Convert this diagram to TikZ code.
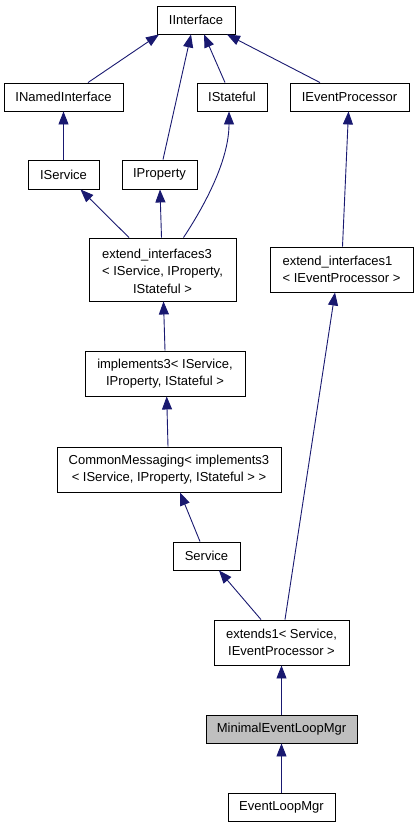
\documentclass[tikz,border=0pt]{standalone}
\usepackage{fontspec}
\setmainfont{Liberation Sans}
\usetikzlibrary{arrows.meta}
\definecolor{edgeblue}{HTML}{191970}
\definecolor{selgray}{HTML}{BFBFBF}
\begin{document}
\begin{tikzpicture}[x=1pt,y=-1pt,
  cls/.style={draw=black, line width=0.9pt, fill=white, inner sep=0pt,
    font=\fontsize{13}{17.5}\selectfont, align=center, minimum height=28pt},
  edge/.style={draw=edgeblue, line width=0.9pt, -{Triangle[length=13pt,width=10pt]}}]
\useasboundingbox (0,0) rectangle (417,827);
\node[cls, minimum width=78pt] (iif) at (196,20) {IInterface};
\node[cls, minimum width=119pt] (inamed) at (63.5,97) {INamedInterface};
\node[cls, minimum width=70pt] (istate) at (232,97) {IStateful};
\node[cls, minimum width=119pt] (ievp) at (349.5,97) {IEventProcessor};
\node[cls, minimum width=71pt, minimum height=29pt] (isvc) at (63.5,174.5) {IService};
\node[cls, minimum width=75pt, minimum height=29pt] (iprop) at (159.5,174.5) {IProperty};
\node[cls, minimum width=147pt, minimum height=63pt] (ext3) at (162.5,269.5)
  {\begin{tabular}[b]{@{}l@{}}extend\_interfaces3\\< IService, IProperty,\end{tabular}\\IStateful >};
\node[cls, align=left, minimum width=143pt, minimum height=45pt] (ext1) at (341.5,269.5)
  {extend\_interfaces1\\< IEventProcessor >};
\node[cls, minimum width=160pt, minimum height=45pt] (impl3) at (165,373.5)
  {implements3< IService,\\IProperty, IStateful >};
\node[cls, minimum width=224pt, minimum height=45pt] (cmsg) at (169,469.5)
  {CommonMessaging< implements3\\< IService, IProperty, IStateful > >};
\node[cls, minimum width=67pt] (svc) at (206.5,556) {Service};
\node[cls, minimum width=135pt, minimum height=45pt] (ext1s) at (281.5,642.5)
  {extends1< Service,\\IEventProcessor >};
\node[cls, fill=selgray, minimum width=151pt] (minimal) at (281.5,729) {MinimalEventLoopMgr};
\node[cls, minimum width=107pt] (elm) at (281.5,807) {EventLoopMgr};

\draw[edge] ([xshift=24.5pt]inamed.north) -- ([xshift=-37pt]iif.south);
\draw[edge] ([xshift=3.5pt]iprop.north) -- ([xshift=-5pt]iif.south);
\draw[edge] ([xshift=-7pt]istate.north) -- ([xshift=8pt]iif.south);
\draw[edge] ([xshift=-29.5pt]ievp.north) -- ([xshift=31pt]iif.south);
\draw[edge] (isvc.north) -- (inamed.south);
\draw[edge] ([xshift=-33.5pt]ext3.north) -- ([xshift=17pt]isvc.south);
\draw[edge] ([xshift=-1pt]ext3.north) -- ([xshift=0.5pt]iprop.south);
\draw[edge] ([xshift=21pt]ext3.north) .. controls (205,205) and (229,160) .. ([xshift=-3pt]istate.south);
\draw[edge] ([xshift=1pt]ext1.north) -- ([xshift=-1pt]ievp.south);
\draw[edge] (impl3.north) -- ([xshift=1pt]ext3.south);
\draw[edge] ([xshift=-1pt]cmsg.north) -- ([xshift=1.7pt]impl3.south);
\draw[edge] ([xshift=-6.5pt]svc.north) -- ([xshift=11pt]cmsg.south);
\draw[edge] ([xshift=-20.5pt]ext1s.north) -- ([xshift=12.5pt]svc.south);
\draw[edge] ([xshift=3.5pt]ext1s.north) -- ([xshift=-6.5pt]ext1.south);
\draw[edge] (minimal.north) -- (ext1s.south);
\draw[edge] (elm.north) -- (minimal.south);
\end{tikzpicture}
\end{document}
